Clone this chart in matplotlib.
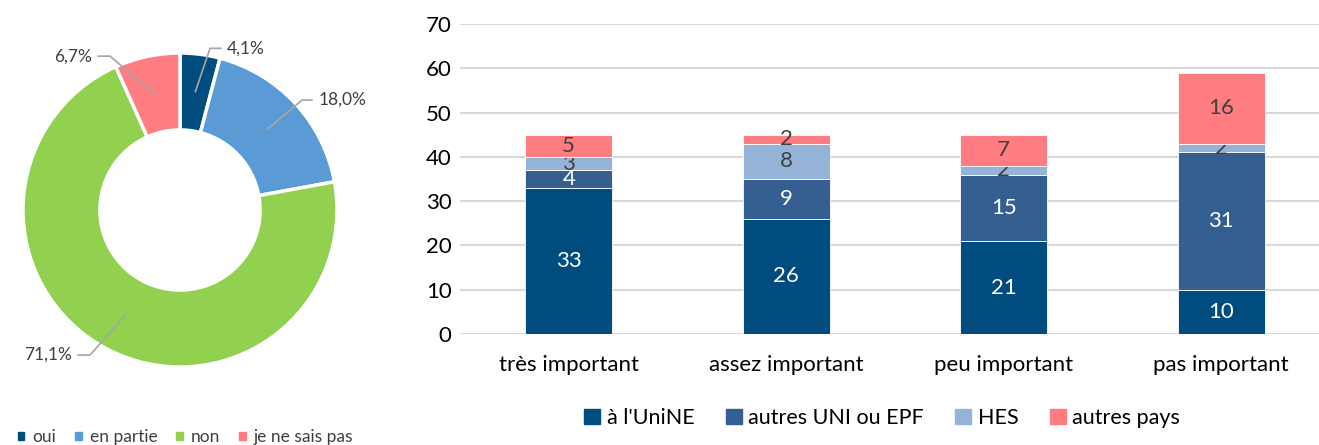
import matplotlib.pyplot as plt
from matplotlib.patches import Patch

plt.rcParams['font.family'] = ['Lato', 'DejaVu Sans']

# donut data
pie_labels = ['oui', 'en partie', 'non', 'je ne sais pas']
pie_values = [4.1, 18.0, 71.1, 6.7]
pie_colors = ['#004C7F', '#5B9BD5', '#92D050', '#FF7C80']

# stacked bar data
categories = ['très important', 'assez important', 'peu important', 'pas important']
series_names = ["à l'UniNE", 'autres UNI ou EPF', 'HES', 'autres pays']
unine = [33, 26, 21, 10]
autres_uni = [4, 9, 15, 31]
hes = [3, 8, 2, 2]
autres_pays = [5, 2, 7, 16]
bar_colors = ['#004C7F', '#365F91', '#95B3D7', '#FF7C80']
label_colors = ['white', 'white', '#404040', '#404040']

fig = plt.figure(figsize=(13.19, 4.45), dpi=100)

# ---- donut ----
axp = fig.add_axes([23 / 1319, 78 / 445, 314 / 1319, 314 / 445])
wedges, _ = axp.pie(pie_values, colors=pie_colors, startangle=90, counterclock=False,
                    radius=1, wedgeprops=dict(width=0.49, edgecolor='white', linewidth=2.5))
axp.set_xlim(-1, 1)
axp.set_ylim(-1, 1)
axp.set_aspect('equal')
axp.axis('off')

# leader lines: (start, elbow, end, text x, ha)
leaders = [
    ((0.098, 0.754), (0.191, 1.03), (0.261, 1.03), 0.30, 'left'),
    ((0.554, 0.513), (0.777, 0.70), (0.84, 0.70), 0.88, 'left'),
    ((-0.349, -0.670), (-0.573, -0.924), (-0.65, -0.924), -0.69, 'right'),
    ((-0.162, 0.737), (-0.446, 0.98), (-0.52, 0.98), -0.56, 'right'),
]
for v, (p0, p1, p2, tx, ha) in zip(pie_values, leaders):
    axp.plot([p0[0], p1[0], p2[0]], [p0[1], p1[1], p2[1]], color='#a6a6a6',
             lw=1.2, clip_on=False)
    axp.text(tx, p2[1], f'{v:.1f}'.replace('.', ',') + '%', ha=ha, va='center',
             fontsize=12.5, color='#404040', clip_on=False)

fig.legend(handles=[Patch(color=c, label=l) for c, l in zip(pie_colors, pie_labels)],
           loc='center left', bbox_to_anchor=(4 / 1319, 1 - 437 / 445), ncol=4,
           frameon=False, fontsize=12.5, handlelength=0.38, handleheight=0.38,
           handletextpad=0.45, columnspacing=1.1, labelcolor='#404040',
           borderpad=0.3)

# ---- stacked bars ----
ax = fig.add_axes([460 / 1319, 111 / 445, 1 - 460 / 1319, 310 / 445])
x = range(len(categories))
bottom = [0] * len(categories)
for name, vals, col, lc in zip(series_names, [unine, autres_uni, hes, autres_pays],
                               bar_colors, label_colors):
    bars = ax.bar(x, vals, 0.4, bottom=bottom, color=col, label=name,
                  edgecolor='white', linewidth=0.6, zorder=3)
    ax.bar_label(bars, labels=[str(v) for v in vals], label_type='center',
                 color=lc, fontsize=16)
    bottom = [b + v for b, v in zip(bottom, vals)]

ax.set_ylim(0, 70)
ax.set_yticks(range(0, 71, 10))
ax.set_xlim(-0.5, 3.45)
ax.set_xticks(list(x))
ax.set_xticklabels(categories)
ax.yaxis.grid(True, color='#d9d9d9', linewidth=1.5, zorder=0)
ax.set_axisbelow(True)
for s in ax.spines.values():
    s.set_visible(False)
ax.tick_params(length=0, labelsize=16, labelcolor='#000000')
ax.tick_params(axis='x', pad=15)
ax.tick_params(axis='y', pad=6)

fig.legend(handles=[Patch(color=c, label=l) for c, l in zip(bar_colors, series_names)],
           loc='center', bbox_to_anchor=(882 / 1319, 1 - 418 / 445), ncol=4,
           frameon=False, fontsize=15.5, handlelength=0.75, handleheight=0.75,
           handletextpad=0.3, columnspacing=1.45)

fig.savefig('out.png', dpi=100)
